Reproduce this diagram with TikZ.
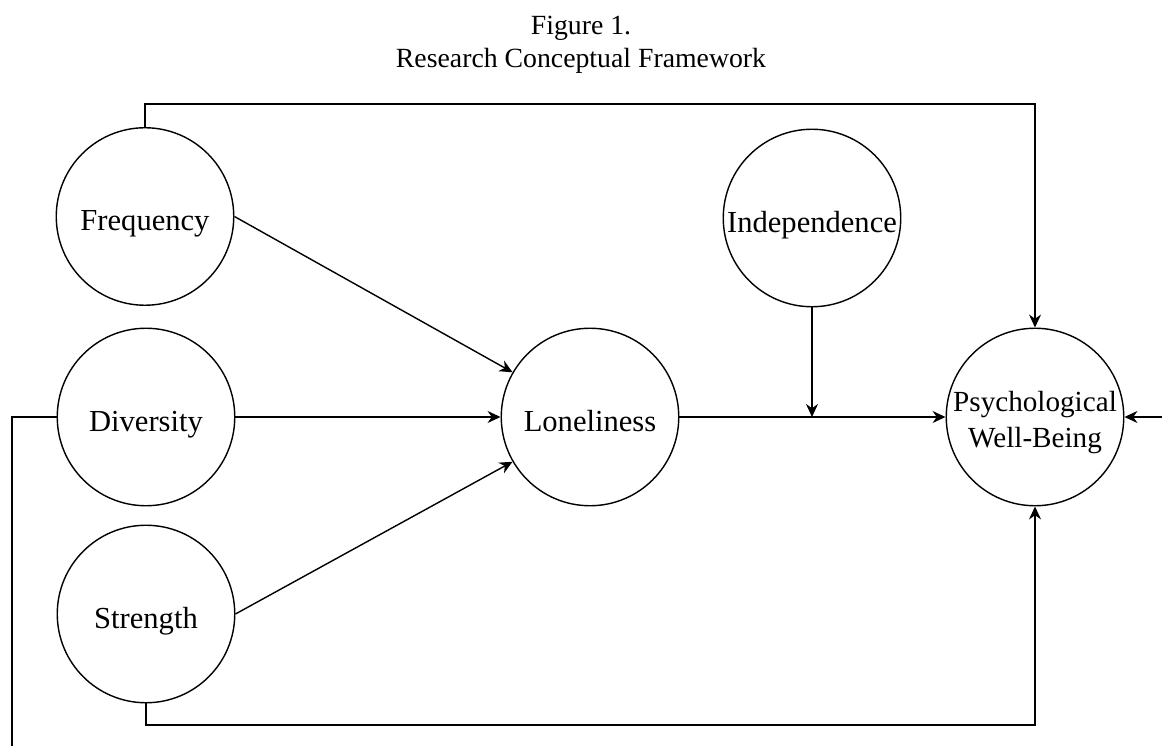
\documentclass[tikz,border=0pt]{standalone}
\usepackage{fontspec}
\setmainfont{Liberation Serif}
\usetikzlibrary{arrows.meta}

\begin{document}
\begin{tikzpicture}[
    var/.style={draw, circle, line width=0.8pt, minimum size=3.55cm, inner sep=0pt,
      align=center, text height=16pt, text depth=0pt,
      font=\fontsize{17.4}{19}\selectfont},
    arr/.style={line width=0.8pt, -{Stealth[length=2.6mm,width=2.4mm]}},
    link/.style={line width=0.8pt}
  ]

  \useasboundingbox (0,0) rectangle (23.24,14.92);

  \node[align=center, font=\fontsize{15.8}{19}\selectfont] (title) at (11.62,14.03)
    {Figure 1.\\Research Conceptual Framework};

  \node[var] (freq) at (2.9,10.59) {Frequency};
  \node[var] (div) at (2.92,6.58) {Diversity};
  \node[var] (str) at (2.92,2.64) {Strength};
  \node[var] (lone) at (11.8,6.58) {Loneliness};
  \node[var] (indep) at (16.24,10.56) {Independence};
  \node[var, text height=35pt, text depth=0pt, font=\fontsize{16.6}{20.4}\selectfont]
    (pwb) at (20.7,6.58) {Psychological\\Well-Being};

  \coordinate (top) at (20.7,12.84);
  \coordinate (bot) at (20.7,0.42);
  \coordinate (mid) at (16.24,6.58);
  \coordinate (leftend) at (0.24,0);
  \coordinate (rightend) at (23.24,6.58);

  \draw[arr] (freq.east) -- (lone.150);
  \draw[arr] (div.east) -- (lone.west);
  \draw[arr] (str.east) -- (lone.210);
  \draw[arr] (lone.east) -- (pwb.west);
  \draw[arr] (indep.south) -- (mid);

  \draw[arr] (freq.north) |- (top) -- (pwb.north);
  \draw[arr] (str.south) |- (bot) -- (pwb.south);
  \draw[link] (div.west) -| (leftend);
  \draw[arr] (rightend) -- (pwb.east);

\end{tikzpicture}
\end{document}
